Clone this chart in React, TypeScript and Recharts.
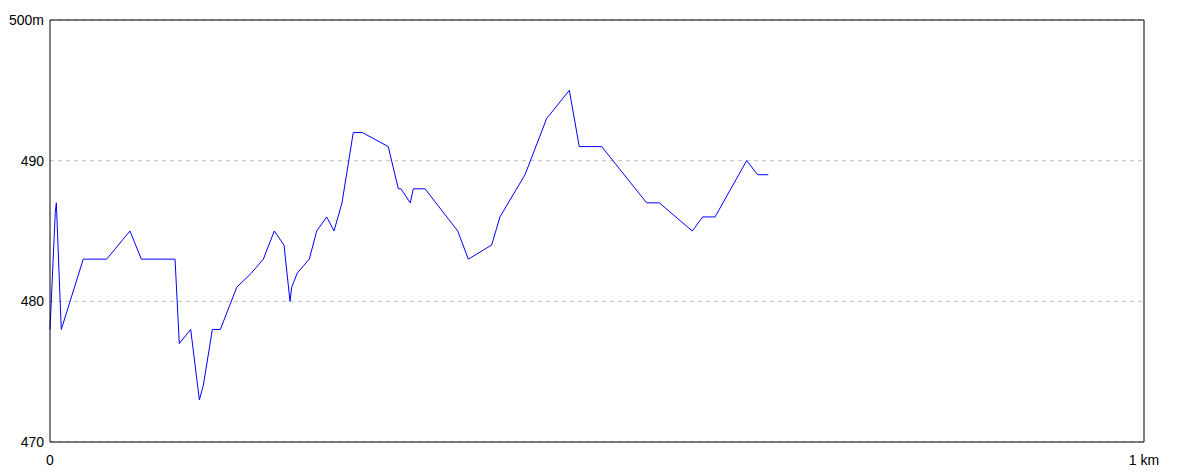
import { LineChart, Line, XAxis, YAxis, CartesianGrid, ReferenceLine } from 'recharts';

// distance along the track in metres, elevation in metres
const distances = [
  0, 4.8, 5.8, 10.3, 30.4, 51.8, 73.1, 83.5, 114.3, 118.2, 128.6, 136.5, 140.1,
  148.4, 155.7, 170.7, 184, 195, 205, 213.9, 219.4, 220.9, 226, 237, 243.8, 252.9,
  259.6, 266.9, 277.2, 285.5, 309.2, 318.4, 320.8, 329.3, 332.1, 342.8, 372.7,
  382.4, 403.7, 411.3, 434.2, 454, 474.7, 483.8, 504.3, 545.4, 557, 587.1, 596.6,
  607.9, 636.8, 646.9, 656.6,
];
const elevations = [
  478, 486.3, 487, 478, 483, 483, 485, 483, 483, 477, 478, 473, 474,
  478, 478, 481, 482, 483, 485, 484, 480, 481, 482, 483, 485, 486,
  485, 487, 492, 492, 491, 488, 488, 487, 488, 488, 485,
  483, 484, 486, 489, 493, 495, 491, 491, 487, 487, 485, 486,
  486, 490, 489, 489,
];

const xTicks = [0, 1000];
const yTicks = [470, 480, 490, 500];

const data = distances.map((d, i) => ({ d, ele: elevations[i] }));

const font = { fontFamily: 'Arial, "Liberation Sans", sans-serif', fontSize: 14, fill: '#000' };

export default function App() {
  return (
    <div style={{ position: 'absolute', left: 0, top: 0, background: '#fff' }}>
      <LineChart
        width={1184}
        height={473}
        data={data}
        margin={{ top: 20, right: 40, left: 0, bottom: 0 }}
      >
        <CartesianGrid vertical={false} stroke="#c0c0c0" strokeDasharray="4 4" />
        <XAxis
          dataKey="d"
          type="number"
          domain={[0, 1000]}
          ticks={xTicks}
          height={31}
          tickLine={false}
          tickSize={0}
          tickMargin={13}
          axisLine={{ stroke: '#000' }}
          tick={font}
          tickFormatter={(v: number) => (v === 1000 ? '1 km' : String(v))}
          interval={0}
        />
        <YAxis
          type="number"
          domain={[470, 500]}
          ticks={yTicks}
          width={50}
          tickLine={false}
          tickSize={0}
          tickMargin={6}
          axisLine={{ stroke: '#000' }}
          tick={font}
          tickFormatter={(v: number) => (v === 500 ? '500m' : String(v))}
          interval={0}
        />
        <ReferenceLine y={500} stroke="#000" />
        <ReferenceLine x={1000} stroke="#000" />
        <Line
          type="linear"
          dataKey="ele"
          stroke="#0000ff"
          strokeWidth={1}
          dot={false}
          isAnimationActive={false}
        />
      </LineChart>
    </div>
  );
}
